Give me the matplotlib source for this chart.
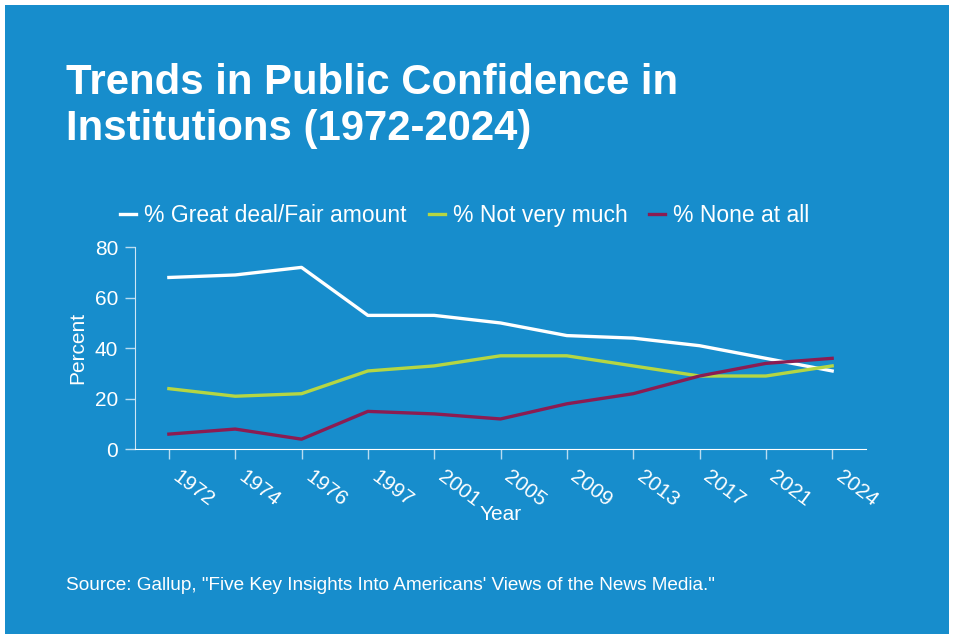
import matplotlib.pyplot as plt
from matplotlib.patches import Rectangle

years = ['1972', '1974', '1976', '1997', '2001', '2005', '2009', '2013', '2017', '2021', '2024']
great_fair = [68, 69, 72, 53, 53, 50, 45, 44, 41, 36, 31]
not_very = [24, 21, 22, 31, 33, 37, 37, 33, 29, 29, 33]
none_at_all = [6, 8, 4, 15, 14, 12, 18, 22, 29, 34, 36]

bg = '#178dcc'
plt.rcParams['font.family'] = ['Liberation Sans', 'DejaVu Sans']

fig = plt.figure(figsize=(9.55, 6.4), dpi=100)
fig.patch.set_facecolor('white')
fig.patches.append(Rectangle((5 / 955, 6 / 640), 944 / 955, 629 / 640,
                             transform=fig.transFigure, facecolor=bg,
                             edgecolor='none', zorder=-1))

ax = fig.add_axes([0.1414, 0.298, 0.7654, 0.3158])
ax.set_facecolor(bg)

x = range(len(years))
ax.plot(x, great_fair, color='white', lw=2.4, label='% Great deal/Fair amount')
ax.plot(x, not_very, color='#b5d643', lw=2.4, label='% Not very much')
ax.plot(x, none_at_all, color='#8b1c52', lw=2.4, label='% None at all')

ax.set_xlim(-0.51, 10.51)
ax.set_ylim(0, 80)
ax.set_yticks([0, 20, 40, 60, 80])
ax.set_xticks(list(x))
ax.set_xticklabels(years, rotation=-37, ha='left', va='top')

for s in ['top', 'right']:
    ax.spines[s].set_visible(False)
ax.spines['bottom'].set_color('white')
ax.spines['left'].set_color('#cde6f5')
ax.tick_params(axis='both', colors='#b9dcf0', labelcolor='white', labelsize=15,
               length=7, width=1)
ax.tick_params(axis='y', pad=5)
ax.tick_params(axis='x', pad=6)

ax.set_xlabel('Year', color='white', fontsize=15)
ax.xaxis.set_label_coords(0.5, -0.275)
ax.set_ylabel('Percent', color='white', fontsize=15)
ax.yaxis.set_label_coords(-0.065, 0.5)

leg = fig.legend(loc='center left', bbox_to_anchor=(0.126, 0.663), ncol=3,
                 frameon=False, fontsize=16.5, handlelength=0.7, handletextpad=0.35,
                 columnspacing=0.95, borderpad=0, borderaxespad=0)
for t in leg.get_texts():
    t.set_color('white')

fig.text(0.069, 1 - 94 / 640, 'Trends in Public Confidence in', color='white',
         fontsize=30.2, fontweight='bold', va='baseline', ha='left')
fig.text(0.069, 1 - 140 / 640, 'Institutions (1972-2024)', color='white',
         fontsize=30.2, fontweight='bold', va='baseline', ha='left')

fig.text(0.069, 1 - 590.5 / 640,
         'Source: Gallup, "Five Key Insights Into Americans\' Views of the News Media."',
         color='white', fontsize=13.7, va='baseline', ha='left')

fig.savefig('out.png', dpi=100, facecolor=fig.get_facecolor())
